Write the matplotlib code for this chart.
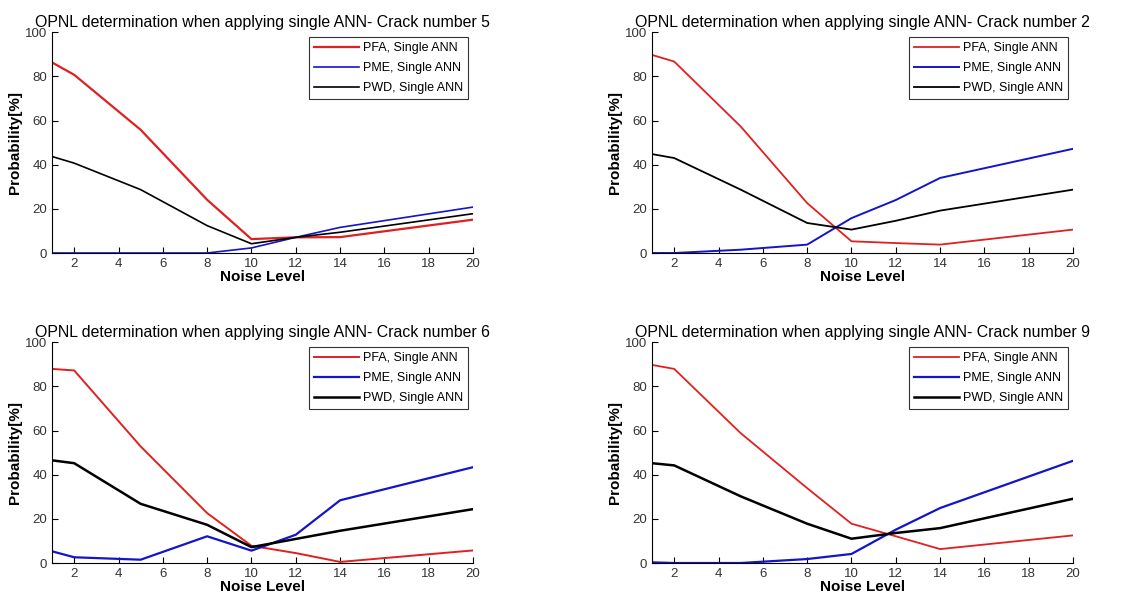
import matplotlib
matplotlib.use("Agg")
import matplotlib.pyplot as plt

plt.rcParams["font.family"] = ["Liberation Sans", "DejaVu Sans"]

noise_level = [1, 2, 5, 8, 10, 12, 14, 20]
labels = ["PFA, Single ANN", "PME, Single ANN", "PWD, Single ANN"]
colors = ["#e02020", "#1414c8", "black"]

crack_numbers = [5, 2, 6, 9]

# crack 5
pfa_5 = [86.3, 80.7, 55.8, 24.1, 6.3, 7.1, 7.2, 15.1]
pme_5 = [0, 0, 0, 0, 2.3, 7.1, 11.6, 20.8]
pwd_5 = [43.7, 40.7, 28.7, 12.4, 4.2, 7.1, 9.4, 17.8]

# crack 2
pfa_2 = [89.7, 86.7, 57.3, 22.6, 5.3, 4.5, 3.8, 10.6]
pme_2 = [0, 0, 1.5, 3.8, 15.8, 24.0, 34.0, 47.2]
pwd_2 = [44.8, 43.0, 28.7, 13.6, 10.6, 14.6, 19.2, 28.7]

# crack 6
pfa_6 = [87.9, 87.2, 52.8, 22.6, 7.8, 4.5, 0.5, 5.7]
pme_6 = [5.3, 2.6, 1.5, 12.1, 5.6, 12.8, 28.4, 43.4]
pwd_6 = [46.5, 45.2, 26.8, 17.3, 7.2, 10.9, 14.6, 24.4]

# crack 9
pfa_9 = [89.7, 87.9, 58.8, 33.9, 17.8, 12.1, 6.3, 12.5]
pme_9 = [0.3, 0, 0, 1.8, 4.1, 15.1, 24.9, 46.3]
pwd_9 = [45.2, 44.2, 30.2, 17.8, 11.0, 13.6, 15.8, 29.1]

series = [
    (pfa_5, pme_5, pwd_5),
    (pfa_2, pme_2, pwd_2),
    (pfa_6, pme_6, pwd_6),
    (pfa_9, pme_9, pwd_9),
]

# line widths per panel (red, blue, black)
widths = [(1.6, 1.2, 1.2), (1.3, 1.4, 1.3), (1.4, 1.6, 1.8), (1.3, 1.6, 1.8)]

positions = [
    [0.0458, 0.5818, 0.3706, 0.365],
    [0.574, 0.5818, 0.3706, 0.365],
    [0.0458, 0.0694, 0.3706, 0.365],
    [0.574, 0.0694, 0.3706, 0.365],
]

fig = plt.figure(figsize=(11.36, 6.05), dpi=100)

for i in range(4):
    ax = fig.add_axes(positions[i])
    for values, label, color, lw in zip(series[i], labels, colors, widths[i]):
        ax.plot(noise_level, values, color=color, lw=lw, label=label)
    ax.set_xlim(1, 20)
    ax.set_ylim(0, 100)
    ax.set_xticks(range(2, 21, 2))
    ax.set_yticks(range(0, 101, 20))
    ax.spines["top"].set_visible(False)
    ax.spines["right"].set_visible(False)
    ax.tick_params(direction="in", labelsize=9.5, length=4, labelcolor="#333333")
    ax.set_xlabel("Noise Level", fontsize=11, fontweight="bold", labelpad=0)
    ax.set_ylabel("Probability[%]", fontsize=11, fontweight="bold", labelpad=2)
    ax.set_title("OPNL determination when applying single ANN- Crack number %d" % crack_numbers[i],
                 fontsize=11.4, pad=4)
    leg = ax.legend(loc="upper right", fontsize=9, frameon=True, fancybox=False,
                    handlelength=3.6, handletextpad=0.3, borderaxespad=0.4,
                    labelspacing=0.65)
    leg.get_frame().set_edgecolor("black")
    leg.get_frame().set_linewidth(0.8)

fig.savefig("out.png", dpi=100)
